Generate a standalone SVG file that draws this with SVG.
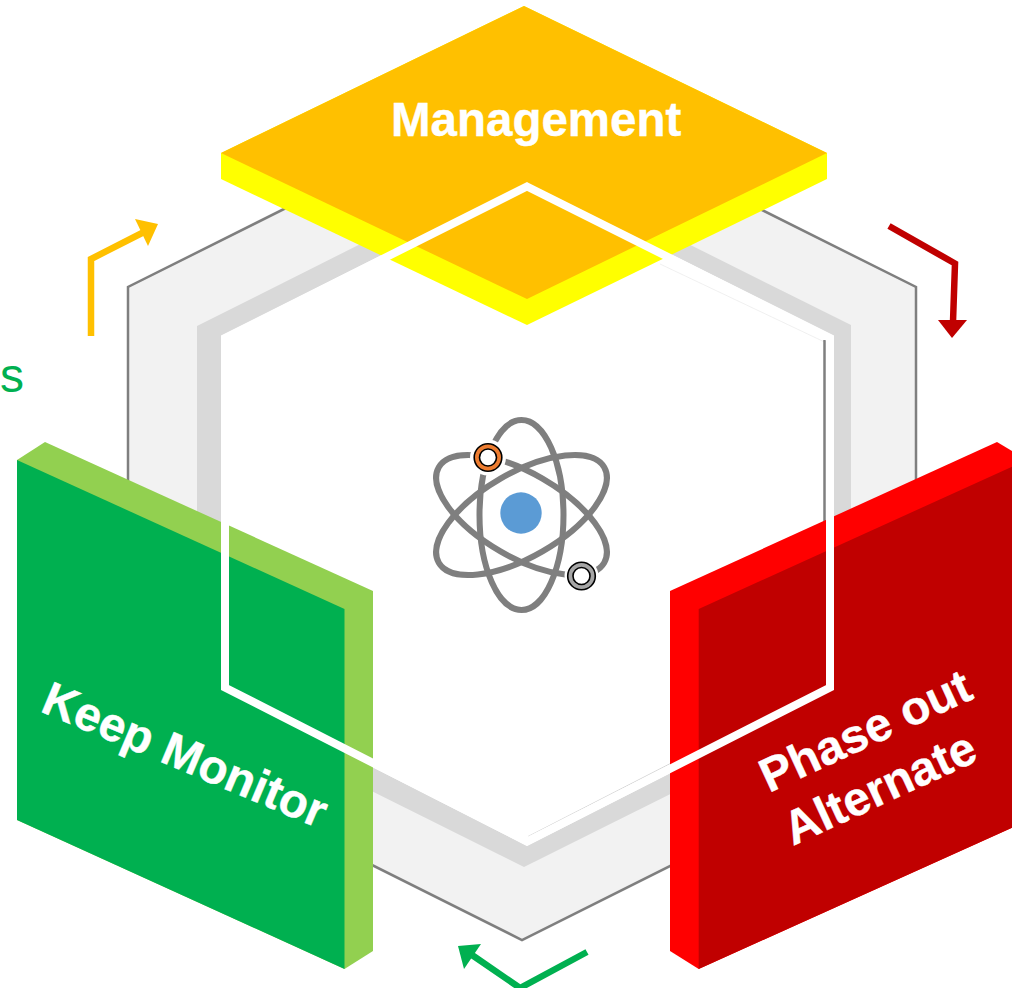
<svg xmlns="http://www.w3.org/2000/svg" width="1012" height="988" viewBox="0 0 1012 988">
<style>
.lbl{font-family:"Liberation Sans",Arial,sans-serif;font-weight:700;font-size:47.5px;fill:#fff;stroke:#fff;stroke-width:0.4}
.orbit{fill:none;stroke:#7f7f7f;stroke-width:6}
.ln{fill:none;stroke-width:6.5}
.ring{stroke:#000;stroke-width:1.6}
</style>
<rect width="1012" height="988" fill="#fff"/>
<g id="hexagon-base">
<polygon points="522,90 916,287 916,743 522,940 128,743 128,287" fill="#f2f2f2" stroke="#7f7f7f" stroke-width="2.5"/>
<polygon points="524,162 851,325 851,704 524,867 197,704 197,326" fill="#d9d9d9"/>
<polygon points="527,182 834,336 834,690 527,846 221,690 221,336" fill="#fff"/>
<polyline points="660,264 824.5,342" fill="none" stroke="#e0e0e0" stroke-width="0.5"/>
<polyline points="528,836.500 824.500,684.500" fill="none" stroke="#c4c4c4" stroke-width="0.7"/>
<line x1="824.5" y1="340" x2="824.5" y2="686" stroke="#7f7f7f" stroke-width="2.5"/>
</g>
<g id="management">
<polygon points="221,153 524,6 827,153 827,179 527,325 221,179" fill="#ffff00"/>
<polygon points="524,6 827,153 527,299 221,153" fill="#ffc000"/>
</g>
<g id="keep-monitor">
<polygon points="17,460 45,442 373,591 373,951 344.5,969 17,820" fill="#92d050"/>
<polygon points="17,460 344.5,609 344.5,969 17,820" fill="#00b050"/>
</g>
<g id="phase-out">
<polygon points="670,591 997,442 1012,451 1012,827.700 698.700,969 670,951" fill="#ff0000"/>
<polygon points="698.700,609 1012,466.700 1012,827.700 698.700,969" fill="#c00000"/>
</g>
<polygon id="white-frame" points="527,186.500 830,338 830,687.500 527,841.500 225,687.500 225,338" fill="none" stroke="#fff" stroke-width="8"/>
<text class="lbl" x="391" y="136">Management</text>
<text class="lbl" transform="translate(39,711) rotate(22.8)">Keep Monitor</text>
<text class="lbl" transform="translate(769,793) rotate(-24.8)">Phase out</text>
<text class="lbl" transform="translate(793,846) rotate(-24.8)">Alternate</text>
<text x="0" y="392" font-family="'Liberation Sans',Arial,sans-serif" font-size="48" fill="#00b050">s</text>
<g id="atom">
<ellipse class="orbit" cx="521.500" cy="515" rx="42" ry="95"/>
<ellipse class="orbit" cx="521.500" cy="515" rx="95.500" ry="42" transform="rotate(30 521.500 515)"/>
<ellipse class="orbit" cx="521.500" cy="515" rx="95.500" ry="42" transform="rotate(-30 521.500 515)"/>
<circle cx="521" cy="513" r="20.700" fill="#5b9bd5"/>
<circle cx="488" cy="457.500" r="18" fill="#fff"/>
<circle cx="581.500" cy="576" r="17" fill="#fff"/>
<circle class="ring" cx="488" cy="457.500" r="13.800" fill="#ed7d31"/>
<circle class="ring" cx="488" cy="457.500" r="8.500" fill="#fff"/>
<circle class="ring" cx="581.500" cy="576" r="13.800" fill="#a5a5a5"/>
<circle class="ring" cx="581.500" cy="576" r="8.500" fill="#fff"/>
</g>
<g id="connectors">
<polyline class="ln" stroke="#ffc000" points="91,336 91,259 146,231"/>
<polygon fill="#ffc000" points="158,224 135,219 148,246"/>
<polyline class="ln" stroke="#c00000" points="889,226 955,263.500 953,322"/>
<polygon fill="#c00000" points="938,320 967,320 952,338"/>
<polyline class="ln" stroke="#00b050" points="587,952 520,988 472,955"/>
<polygon fill="#00b050" points="458,946 481,944 464,969"/>
</g>
</svg>
